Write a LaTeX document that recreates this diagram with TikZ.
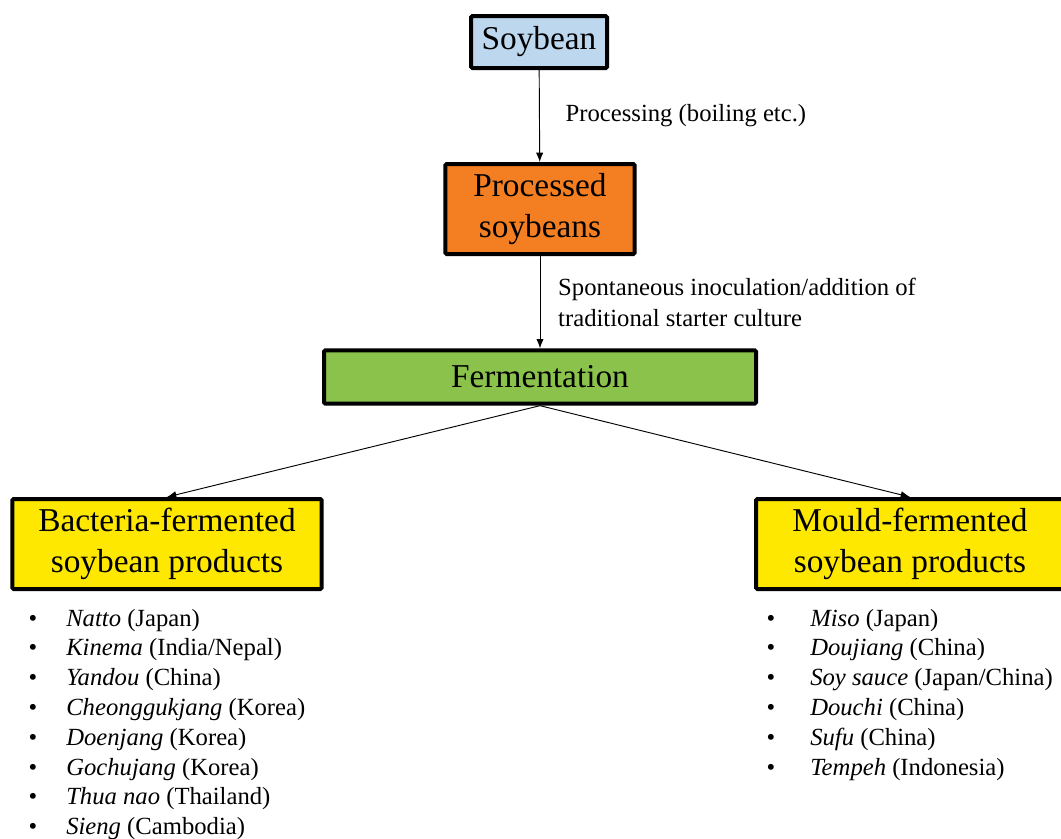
\documentclass[tikz,border=0pt]{standalone}
\usepackage{fontspec}
\setmainfont{Liberation Serif}
\usetikzlibrary{positioning, arrows.meta}
\definecolor{soyblue}{HTML}{BDD7EE}
\definecolor{soyorange}{HTML}{F47F22}
\definecolor{soygreen}{HTML}{8BC24C}
\definecolor{soyyellow}{HTML}{FFE800}
\tikzset{%
    stage/.style={%
        draw,
        line width=3pt,
        rounded corners=1pt,
        inner sep=0pt,
        align=center,
        font=\fontsize{25}{31}\selectfont,
    },
    flow/.style={-{Latex[length=7pt, width=5.5pt]}, line width=0.7pt},
    steplabel/.style={font=\fontsize{18.5}{23.5}\selectfont, align=left},
    item/.style={anchor=base west, inner sep=0pt, font=\fontsize{18.5}{22}\selectfont},
    dot/.style={anchor=base, inner sep=0pt, font=\fontsize{18.5}{22}\selectfont},
}

\begin{document}
\begin{tikzpicture}[x=0.75pt, y=-0.75pt]

    \useasboundingbox (0, 0) rectangle (1061, 839);

    %%%%%%%%%%
    % Stages %
    %%%%%%%%%%
    \node[stage, fill=soyblue, minimum width=102pt, minimum height=39pt]
        (soy) at (539, 42) {Soybean};
    \node[stage, fill=soyorange, minimum width=142pt, minimum height=67.5pt]
        (proc) at (540, 209) {Processed\\soybeans};
    \node[stage, fill=soygreen, minimum width=324pt, minimum height=40pt]
        (ferm) at (540, 377) {Fermentation};
    \node[stage, fill=soyyellow, minimum width=232pt, minimum height=67.5pt]
        (bact) at (167, 544) {Bacteria-fermented\\soybean products};
    \node[stage, fill=soyyellow, minimum width=231pt, minimum height=67.5pt]
        (mould) at (910, 544) {Mould-fermented\\soybean products};

    %%%%%%%%%%
    % Arrows %
    %%%%%%%%%%
    \draw[flow] (soy) -- (proc)
        node[steplabel, midway, right=16pt] {Processing (boiling etc.)};
    \draw[flow] (proc) -- (ferm)
        node[steplabel, midway, right=10pt] {%
            Spontaneous inoculation/addition of\\
            traditional starter culture%
        };
    \draw[flow] (ferm.south) -- (bact.north);
    \draw[flow] (ferm.south) -- (mould.north);

    %%%%%%%%%%%%
    % Products %
    %%%%%%%%%%%%
    \foreach \i/\name/\place in {%
        0/Natto/Japan, 1/Kinema/{India/Nepal}, 2/Yandou/China,
        3/Cheonggukjang/Korea, 4/Doenjang/Korea, 5/Gochujang/Korea,
        6/Thua nao/Thailand, 7/Sieng/Cambodia%
    }{%
        \node[dot] (bact-dot-\i) at (33, 626 + \i * 29.8) {\textbullet};
        \node[item] (bact-\i) at (66, 626 + \i * 29.8)
            {\textit{\name} (\place)};
    };

    \foreach \i/\name/\place in {%
        0/Miso/Japan, 1/Doujiang/China, 2/Soy sauce/{Japan/China},
        3/Douchi/China, 4/Sufu/China, 5/Tempeh/Indonesia%
    }{%
        \node[dot] (mould-dot-\i) at (771, 626 + \i * 29.8) {\textbullet};
        \node[item] (mould-\i) at (810, 626 + \i * 29.8)
            {\textit{\name} (\place)};
    };

\end{tikzpicture}
\end{document}
